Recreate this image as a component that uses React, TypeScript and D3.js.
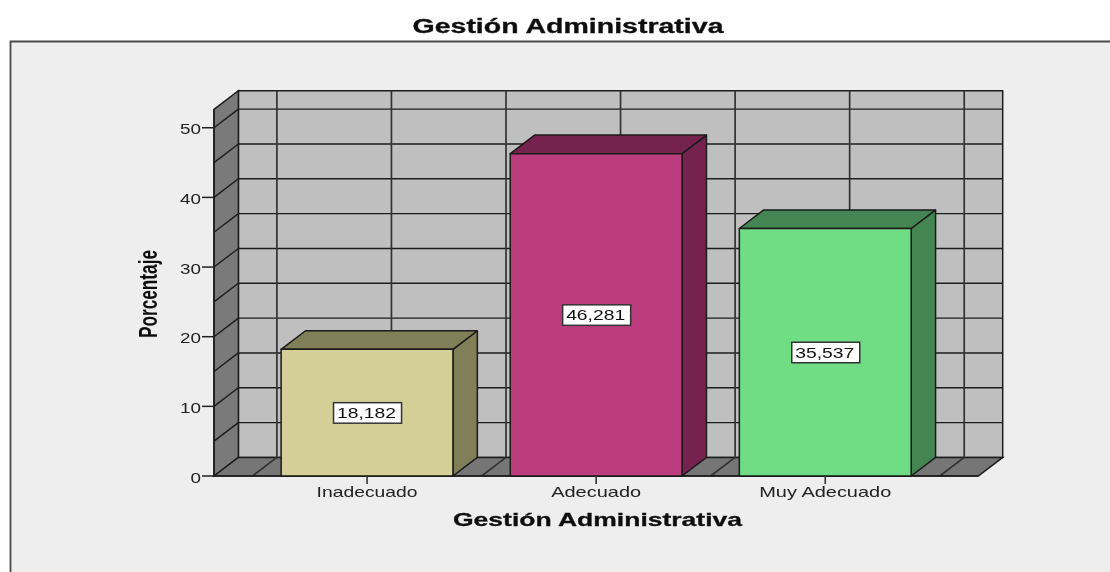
import React from "react";
import * as d3 from "d3";

const categories = ["Inadecuado", "Adecuado", "Muy Adecuado"];
const values = [18.182, 46.281, 35.537];
const valueLabels = ["18,182", "46,281", "35,537"];
const frontColors = ["#d3cf96", "#bb3d7d", "#70dd84"];
const sideColors = ["#817f58", "#742450", "#458552"];
const labelWidths = [101, 90, 132];
const chartTitle = "Gestión Administrativa";
const yTitle = "Porcentaje";
const yMax = 52.65;

const W = 1110;
const H = 572;
const left = 214;
const right = 978.3;
const bottom = 476;
const top = 109.3;
const dx = 24.4;
const dy = -18.6;
const line = "#1c1c1c";
const font = "'Liberation Sans', Arial, sans-serif";

const y = d3.scaleLinear().domain([0, yMax]).range([bottom, top]);
const x = d3.scaleBand<string>().domain(categories).range([left, right]).paddingInner(0).paddingOuter(0.168);
const barWidth = x.bandwidth() * 0.75;
const gridTicks = y.ticks(10);
const labelTicks = gridTicks.filter((t) => t % 10 === 0);
const poly = (pts: [number, number][]) => d3.line()(pts) + "Z";

export default function App() {
  const step = x.step();
  const bandEdges = [...categories.map((c) => x(c)!), x(categories[2])! + step];
  const centers = categories.map((c) => x(c)! + step / 2);
  return (
    <svg width={W} height={H} viewBox={`0 0 ${W} ${H}`} style={{ position: "absolute", left: 0, top: 0, display: "block", background: "#fff" }}>
      <defs>
        <filter id="soft" x="0" y="0" width={W} height={H} filterUnits="userSpaceOnUse">
          <feGaussianBlur stdDeviation="0.6" />
        </filter>
      </defs>
      <g filter="url(#soft)">
        <rect x={0} y={0} width={W} height={H} fill="#fff" />
        <path d={`M10.5,${H + 5}V41.5H${W + 5}V${H + 5}Z`} fill="#eeeeee" />
        <path d={`M10.5,${H + 5}V41.5H${W + 5}`} fill="none" stroke="#4a4a4a" strokeWidth={1.8} />

        <text x={568} y={32.5} fontFamily={font} fontWeight={700} fontSize={19.5} fill="#111" stroke="#111" strokeWidth={0.3} textAnchor="middle" textLength={311} lengthAdjust="spacingAndGlyphs">{chartTitle}</text>

        {/* walls */}
        <path d={poly([[left + dx, top + dy], [right + dx, top + dy], [right + dx, bottom + dy], [left + dx, bottom + dy]])} fill="#bfbfbf" stroke={line} strokeWidth={1.5} />
        <path d={poly([[left, top], [left + dx, top + dy], [left + dx, bottom + dy], [left, bottom]])} fill="#7a7a7a" stroke={line} strokeWidth={1.5} />
        <path d={poly([[left, bottom], [left + dx, bottom + dy], [right + dx, bottom + dy], [right, bottom]])} fill="#767676" stroke={line} strokeWidth={1.5} />

        {/* gridlines */}
        {gridTicks.filter((t) => t > 0).map((t) => (
          <g key={t} stroke={line} strokeWidth={1.4} fill="none">
            <line x1={left} y1={y(t)} x2={left + dx} y2={y(t) + dy} />
            <line x1={left + dx} y1={y(t) + dy} x2={right + dx} y2={y(t) + dy} />
          </g>
        ))}
        {[...bandEdges, ...centers].map((px) => (
          <g key={px} stroke="#333" strokeWidth={1.7} fill="none">
            <line x1={px + dx} y1={top + dy} x2={px + dx} y2={bottom + dy} />
            <line x1={px + dx} y1={bottom + dy} x2={px} y2={bottom} />
          </g>
        ))}

        {/* y axis */}
        <line x1={left} y1={top} x2={left} y2={bottom} stroke={line} strokeWidth={1.6} />
        <line x1={left} y1={bottom} x2={right} y2={bottom} stroke={line} strokeWidth={1.6} />
        {labelTicks.map((t) => (
          <g key={t}>
            <line x1={left - 12} y1={y(t)} x2={left} y2={y(t)} stroke="#222" strokeWidth={1.5} />
            <text x={201} y={y(t) + 6.5} fontFamily={font} fontSize={14.5} fill="#222" textAnchor="end" textLength={t === 0 ? 10.5 : 21} lengthAdjust="spacingAndGlyphs">{t}</text>
          </g>
        ))}

        {/* bars */}
        {categories.map((c, i) => {
          const bx = centers[i] - barWidth / 2;
          const by = y(values[i]);
          const bw = barWidth;
          return (
            <g key={c} stroke="#1a1a1a" strokeWidth={1.5} strokeLinejoin="round">
              <path d={poly([[bx + bw, by], [bx + bw + dx, by + dy], [bx + bw + dx, bottom + dy], [bx + bw, bottom]])} fill={sideColors[i]} />
              <path d={poly([[bx, by], [bx + dx, by + dy], [bx + bw + dx, by + dy], [bx + bw, by]])} fill={sideColors[i]} />
              <rect x={bx} y={by} width={bw} height={bottom - by} fill={frontColors[i]} />
            </g>
          );
        })}

        {/* value labels */}
        {categories.map((c, i) => {
          const my = (y(values[i]) + bottom) / 2;
          return (
            <g key={c}>
              <rect x={centers[i] - 33.5} y={my - 10} width={68} height={20.5} fill="#fff" stroke="#333" strokeWidth={1.5} />
              <text x={centers[i] - 0.5} y={my + 5.5} fontFamily={font} fontSize={14.5} fill="#111" textAnchor="middle" textLength={59} lengthAdjust="spacingAndGlyphs">{valueLabels[i]}</text>
            </g>
          );
        })}

        {/* x axis */}
        {categories.map((c, i) => (
          <g key={c}>
            <line x1={centers[i]} y1={bottom} x2={centers[i]} y2={bottom + 8} stroke="#333" strokeWidth={1.6} />
            <text x={centers[i]} y={497} fontFamily={font} fontSize={14.5} fill="#222" textAnchor="middle" textLength={labelWidths[i]} lengthAdjust="spacingAndGlyphs">{c}</text>
          </g>
        ))}
        <text x={597.5} y={525.8} fontFamily={font} fontWeight={700} fontSize={18.5} fill="#111" stroke="#111" strokeWidth={0.3} textAnchor="middle" textLength={289} lengthAdjust="spacingAndGlyphs">{chartTitle}</text>
        <text transform="translate(157,294) rotate(-90)" fontFamily={font} fontWeight={700} fontSize={26} fill="#111" textAnchor="middle" textLength={88} lengthAdjust="spacingAndGlyphs">{yTitle}</text>
      </g>
    </svg>
  );
}
